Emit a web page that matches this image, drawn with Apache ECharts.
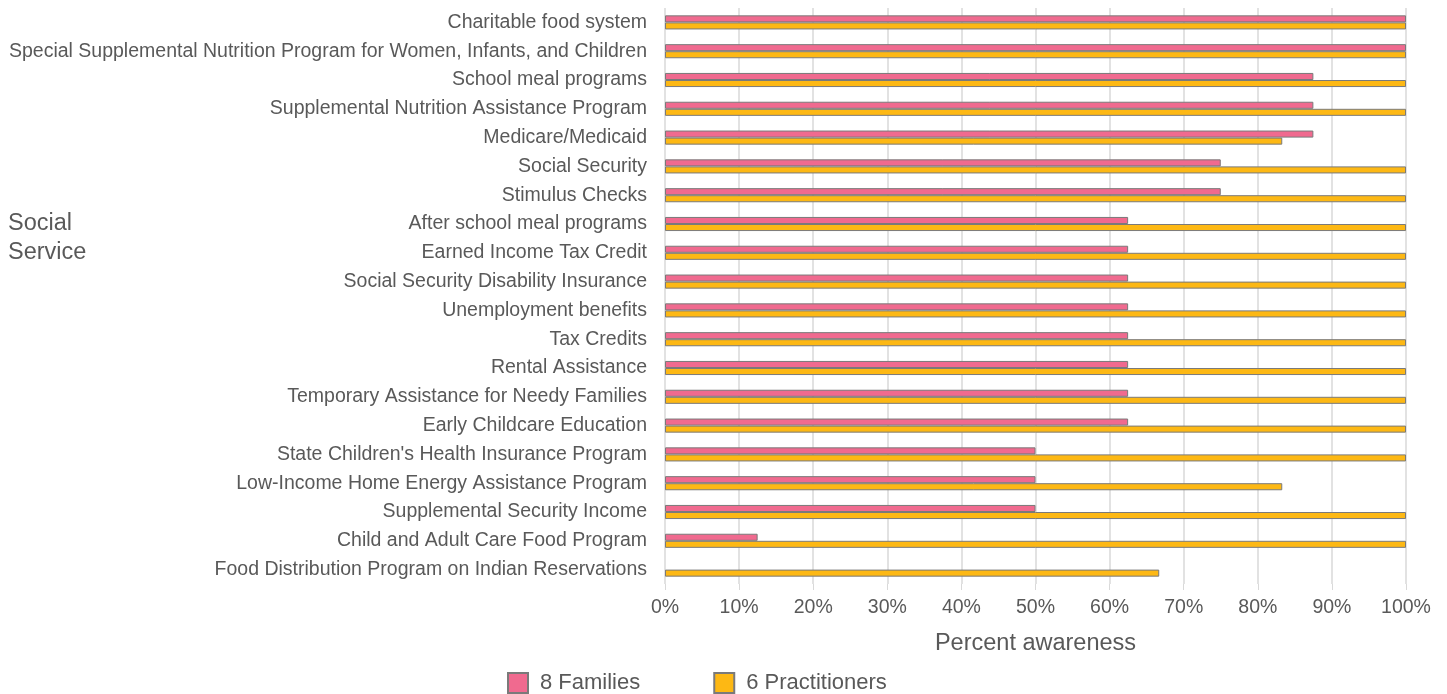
<!DOCTYPE html>
<html><head><meta charset="utf-8">
<script src="https://cdn.jsdelivr.net/npm/echarts@6/dist/echarts.min.js"></script>
<style>html,body{margin:0;padding:0;background:#fff}#c{width:1447px;height:694px}</style>
</head><body><div id="c"></div>
<script>
const categories = [
  "Charitable food system",
  "Special Supplemental Nutrition Program for Women, Infants, and Children",
  "School meal programs",
  "Supplemental Nutrition Assistance Program",
  "Medicare/Medicaid",
  "Social Security",
  "Stimulus Checks",
  "After school meal programs",
  "Earned Income Tax Credit",
  "Social Security Disability Insurance",
  "Unemployment benefits",
  "Tax Credits",
  "Rental Assistance",
  "Temporary Assistance for Needy Families",
  "Early Childcare Education",
  "State Children's Health Insurance Program",
  "Low-Income Home Energy Assistance Program",
  "Supplemental Security Income",
  "Child and Adult Care Food Program",
  "Food Distribution Program on Indian Reservations"
];
const families = [100,100,87.5,87.5,87.5,75,75,62.5,62.5,62.5,62.5,62.5,62.5,62.5,62.5,50,50,50,12.5,0];
const practitioners = [100,100,100,100,83.3,100,100,100,100,100,100,100,100,100,100,100,83.3,100,100,66.7];
const seriesNames = ["8 Families","6 Practitioners"];
const xTicks = [0,10,20,30,40,50,60,70,80,90,100];

const txt = '#595959';
const FF = 'Liberation Sans, Arial, sans-serif';
const toData = arr => arr.map(v => v === 0 ? {value: v, itemStyle: {borderWidth: 0}} : v);
const chart = echarts.init(document.getElementById('c'));
chart.setOption({
  animation:false,
  textStyle:{fontFamily:FF},
  grid:{left:665,right:41,top:8,bottom:110,containLabel:false},
  graphic:[{type:'text',left:8,top:209,style:{text:'Social\nService',fill:txt,font:'23.5px '+FF,lineHeight:29}}],
  legend:{top:667,left:502,padding:5,itemWidth:20,itemHeight:20,itemGap:73,
    textStyle:{color:txt,fontSize:22,lineHeight:20,fontFamily:FF,padding:[0,0,0,7]},
    data:seriesNames.map(n=>({name:n,icon:'rect'}))},
  xAxis:{type:'value',min:0,max:100,interval:10,
    name:'Percent awareness',nameLocation:'middle',nameGap:48,
    nameTextStyle:{color:txt,fontSize:23.5},
    axisLabel:{color:txt,fontSize:19.5,margin:14,formatter:v=>xTicks.includes(v)?v+'%':''},
    axisLine:{show:false},axisTick:{show:true,length:6,lineStyle:{color:'#d9d9d9'}},
    splitLine:{lineStyle:{color:'#d9d9d9',width:1.5}}},
  yAxis:{type:'category',data:categories,inverse:true,
    axisLine:{show:false},axisTick:{show:false},
    axisLabel:{color:txt,fontSize:19.5,margin:18}},
  series:[
    {name:seriesNames[0],type:'bar',data:toData(families),barGap:'0%',barCategoryGap:'51%',
     itemStyle:{color:'#f06a8f',borderColor:'#7a7a7a',borderWidth:1}},
    {name:seriesNames[1],type:'bar',data:toData(practitioners),barGap:'0%',barCategoryGap:'51%',
     itemStyle:{color:'#fdb814',borderColor:'#7a7a7a',borderWidth:1}}
  ]
});
</script></body></html>
